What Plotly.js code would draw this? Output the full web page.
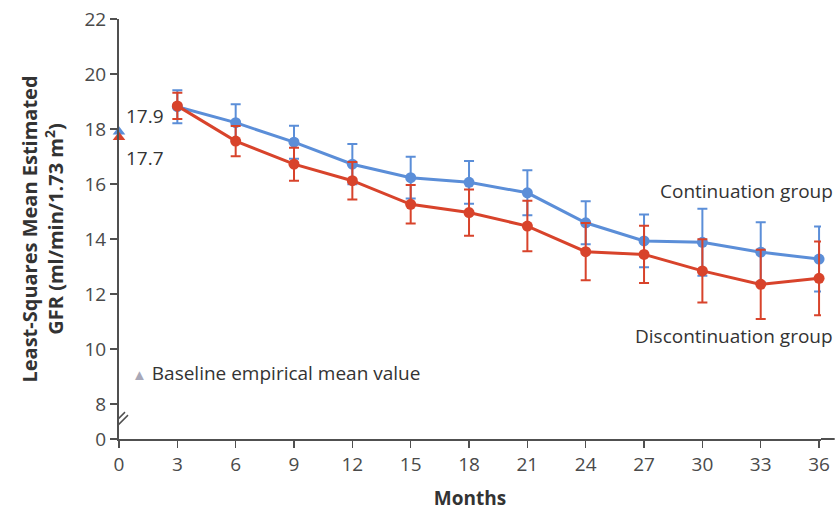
<!DOCTYPE html>
<html>
<head>
<meta charset="utf-8">
<script src="https://cdn.plot.ly/plotly-3.0.1.min.js"></script>
<style>
html,body{margin:0;padding:0;background:#fff;}
#chart{width:835px;height:514px;}
</style>
</head>
<body>
<div id="chart"></div>
<script>
// ---- data ----
const months = [3, 6, 9, 12, 15, 18, 21, 24, 27, 30, 33, 36];
const continuation = [18.81, 18.23, 17.52, 16.72, 16.23, 16.06, 15.68, 14.59, 13.93, 13.88, 13.52, 13.27];
const continuationErr = [0.6, 0.67, 0.6, 0.73, 0.76, 0.78, 0.82, 0.78, 0.96, 1.22, 1.09, 1.18];
const discontinuation = [18.84, 17.56, 16.72, 16.12, 15.26, 14.96, 14.47, 13.54, 13.44, 12.84, 12.35, 12.57];
const discontinuationErr = [0.48, 0.55, 0.6, 0.68, 0.7, 0.84, 0.92, 1.04, 1.04, 1.15, 1.26, 1.34];
const baselineMonth = [0];
const baselineContinuation = [17.9];
const baselineDiscontinuation = [17.7];
const xTickVals = [0, 3, 6, 9, 12, 15, 18, 21, 24, 27, 30, 33, 36];
const xTickText = ['0','3','6','9','12','15','18','21','24','27','30','33','36'];
// y axis is broken between 0 and 8; the "0" tick sits at the bottom of the visible range
const yZeroPos = 6.727;
const yTickVals = [yZeroPos, 8, 10, 12, 14, 16, 18, 20, 22];
const yTickText = ['0', '8', '10', '12', '14', '16', '18', '20', '22'];

const BLUE = '#5b8ed8';
const RED = '#d8432b';
const FONT = 'Open Sans, sans-serif';
const FS = 19;

const traces = [
  {
    x: months, y: continuation, type: 'scatter', mode: 'lines+markers',
    line: {color: BLUE, width: 3}, marker: {color: BLUE, size: 11},
    error_y: {type: 'data', array: continuationErr, visible: true, color: BLUE, thickness: 2, width: 5},
    cliponaxis: false, showlegend: false
  },
  {
    x: months, y: discontinuation, type: 'scatter', mode: 'lines+markers',
    line: {color: RED, width: 3}, marker: {color: RED, size: 11},
    error_y: {type: 'data', array: discontinuationErr, visible: true, color: RED, thickness: 2, width: 5},
    cliponaxis: false, showlegend: false
  },
  {
    x: baselineMonth, y: baselineContinuation, type: 'scatter', mode: 'markers',
    marker: {color: BLUE, size: 11, symbol: 'triangle-up'}, cliponaxis: false, showlegend: false
  },
  {
    x: baselineMonth, y: baselineDiscontinuation, type: 'scatter', mode: 'markers',
    marker: {color: RED, size: 11, symbol: 'triangle-up'}, cliponaxis: false, showlegend: false
  }
];

const axisColor = '#505050';
const layout = {
  width: 835, height: 514,
  margin: {l: 119, r: 14, t: 19, b: 75},
  paper_bgcolor: '#fff', plot_bgcolor: '#fff',
  font: {family: FONT, color: '#444', size: FS},
  xaxis: {
    range: [0, 36.1], tickvals: xTickVals, ticktext: xTickText,
    showgrid: false, zeroline: false, showline: true, linecolor: axisColor, linewidth: 2,
    ticks: 'outside', ticklen: 7, tickwidth: 1.5, tickcolor: axisColor,
    tickfont: {family: FONT, size: FS, color: '#4a4a4a'},
    title: {text: 'Months', font: {family: FONT, size: FS, color: '#333', weight: 'bold'}, standoff: 16}
  },
  yaxis: {
    range: [yZeroPos, 22], tickvals: yTickVals, ticktext: yTickText,
    showgrid: false, zeroline: false, showline: true, linecolor: axisColor, linewidth: 2,
    ticks: 'outside', ticklen: 7, tickwidth: 1.5, tickcolor: axisColor,
    tickfont: {family: FONT, size: FS, color: '#4a4a4a'},
    title: {text: 'Least-Squares Mean Estimated<br>GFR (ml/min/1.73 m<sup>2</sup>)',
            font: {family: FONT, size: 20, color: '#333', weight: 'bold'}, standoff: 15}
  },
  shapes: [
    // extension of the x axis line to the right edge
    {type: 'line', xref: 'paper', yref: 'paper', x0: 1, x1: 1.0195, y0: 0, y1: 0,
     line: {color: axisColor, width: 2}},
    // axis break marks
    {type: 'line', xref: 'x', yref: 'y', xsizemode: 'pixel', ysizemode: 'pixel',
     xanchor: 0, yanchor: 7.45, x0: -9, x1: 6, y0: -8, y1: 7, line: {color: axisColor, width: 1.5}},
    {type: 'line', xref: 'x', yref: 'y', xsizemode: 'pixel', ysizemode: 'pixel',
     xanchor: 0, yanchor: 7.45, x0: -6, x1: 9, y0: -11, y1: 4, line: {color: axisColor, width: 1.5}}
  ],
  annotations: [
    {x: 0, y: 17.9, xref: 'x', yref: 'y', text: '17.9', showarrow: false, xanchor: 'left',
     xshift: 5, yshift: 16, font: {family: FONT, size: FS, color: '#333'}},
    {x: 0, y: 17.7, xref: 'x', yref: 'y', text: '17.7', showarrow: false, xanchor: 'left',
     xshift: 5, yshift: -21, font: {family: FONT, size: FS, color: '#333'}},
    {x: 1.0195, y: 15.75, xref: 'paper', yref: 'y', text: 'Continuation group', showarrow: false,
     xanchor: 'right', font: {family: FONT, size: FS, color: '#333'}},
    {x: 1.0195, y: 10.47, xref: 'paper', yref: 'y', text: 'Discontinuation group', showarrow: false,
     xanchor: 'right', font: {family: FONT, size: FS, color: '#333'}},
    {x: 0.55, y: 9.13, xref: 'x', yref: 'y', xanchor: 'left', showarrow: false,
     text: '<span style="color:#a8a8b8;font-size:15px">▲</span> Baseline empirical mean value',
     font: {family: FONT, size: FS, color: '#333'}}
  ]
};

Plotly.newPlot('chart', traces, layout, {staticPlot: true, displayModeBar: false});
</script>
</body>
</html>
